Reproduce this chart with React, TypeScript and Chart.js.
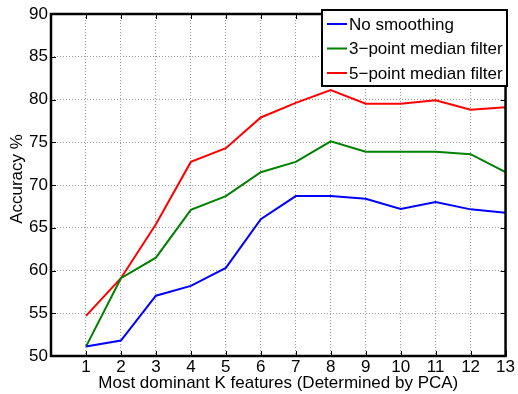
import React, { useEffect, useRef } from "react";
import { Chart, registerables } from "chart.js";

Chart.register(...registerables);

const kFeatures = [1, 2, 3, 4, 5, 6, 7, 8, 9, 10, 11, 12, 13];
const noSmoothing = [51.1, 51.8, 57.05, 58.2, 60.3, 66.0, 68.7, 68.7, 68.4, 67.2, 68.0, 67.15, 66.75];
const median3 = [51.1, 59.1, 61.5, 67.1, 68.7, 71.5, 72.7, 75.1, 73.9, 73.9, 73.9, 73.6, 71.5];
const median5 = [54.7, 59.1, 65.4, 72.7, 74.3, 77.9, 79.6, 81.1, 79.5, 79.5, 79.9, 78.8, 79.1];
const seriesLabels = ["No smoothing", "3\u2212point median filter", "5\u2212point median filter"];
const seriesColors = ["#0000ff", "#008000", "#ff0000"];
const yTicks = [50, 55, 60, 65, 70, 75, 80, 85, 90];
const yTitle = "Accuracy %";

const FONT = "'Liberation Sans', Arial, Helvetica, sans-serif";

const boxPlugin = {
  id: "matlabBox",
  afterDraw(chart: any) {
    const { ctx, chartArea: a, scales } = chart;
    const xs = scales.x;
    const ys = scales.y;
    ctx.save();
    ctx.strokeStyle = "#000";
    ctx.lineWidth = 1;
    const tl = 5;
    for (const k of kFeatures) {
      const px = Math.round(xs.getPixelForValue(k)) + 0.5;
      ctx.beginPath();
      ctx.moveTo(px, a.bottom);
      ctx.lineTo(px, a.bottom - tl);
      ctx.moveTo(px, a.top);
      ctx.lineTo(px, a.top + tl);
      ctx.stroke();
    }
    for (const v of yTicks) {
      const py = Math.round(ys.getPixelForValue(v)) + 0.5;
      ctx.beginPath();
      ctx.moveTo(a.left, py);
      ctx.lineTo(a.left + tl, py);
      ctx.moveTo(a.right, py);
      ctx.lineTo(a.right - tl, py);
      ctx.stroke();
    }
    ctx.lineWidth = 2.5;
    ctx.strokeRect(a.left, a.top, a.right - a.left, a.bottom - a.top);

    // y title
    ctx.save();
    ctx.translate(17, (a.top + a.bottom) / 2 - 6);
    ctx.rotate(-Math.PI / 2);
    ctx.font = `17px ${FONT}`;
    ctx.fillStyle = "#000";
    ctx.textAlign = "center";
    ctx.textBaseline = "middle";
    ctx.fillText(yTitle, 0, 0);
    ctx.restore();

    // legend
    const lx = 322, ly = 10, lw = 185, lh = 76;
    ctx.fillStyle = "#fff";
    ctx.fillRect(lx, ly, lw, lh);
    ctx.lineWidth = 2;
    ctx.strokeRect(lx, ly, lw, lh);
    ctx.font = `17px ${FONT}`;
    ctx.textBaseline = "middle";
    ctx.textAlign = "left";
    chart.data.datasets.forEach((ds: any, i: number) => {
      const cy = 24 + i * 24.5;
      ctx.strokeStyle = ds.borderColor;
      ctx.lineWidth = 2;
      ctx.beginPath();
      ctx.moveTo(327, cy);
      ctx.lineTo(347, cy);
      ctx.stroke();
      ctx.fillStyle = "#000";
      ctx.fillText(ds.label, 349, cy + 1);
    });
    ctx.restore();
  },
};

export default function App() {
  const ref = useRef<HTMLCanvasElement>(null);
  useEffect(() => {
    document.body.style.margin = "0";
    const series = [noSmoothing, median3, median5];
    const chart = new Chart(ref.current!, {
      type: "line",
      data: {
        datasets: series.map((s, i) => ({
          label: seriesLabels[i],
          data: s.map((v, j) => ({ x: kFeatures[j], y: v })),
          borderColor: seriesColors[i],
          backgroundColor: seriesColors[i],
          borderWidth: 2,
          pointRadius: 0,
          tension: 0,
        })),
      },
      options: {
        animation: false,
        responsive: false,
        layout: { padding: { top: 14, right: 9, left: 0, bottom: 0 } },
        plugins: { legend: { display: false }, tooltip: { enabled: false } },
        scales: {
          x: {
            type: "linear",
            min: 0,
            max: 13,
            afterBuildTicks: (scale: any) => {
              scale.ticks = [0, ...kFeatures].map((v) => ({ value: v }));
            },
            afterFit: (scale: any) => {
              scale.height = 38;
            },
            ticks: {
              autoSkip: false,
              maxRotation: 0,
              padding: 3,
              color: "#000",
              font: { family: FONT, size: 17, lineHeight: 1 },
              callback: (v: any) => (v === 0 ? "" : String(v)),
            },
            grid: { color: "#9a9a9a", lineWidth: 1, drawTicks: false },
            border: { display: false, dash: [1, 2] },
            title: {
              display: true,
              text: "Most dominant K features (Determined by PCA)",
              color: "#000",
              font: { family: FONT, size: 17, lineHeight: 1 },
              padding: { top: 0, bottom: 2 },
            },
          },
          y: {
            type: "linear",
            min: 50,
            max: 90,
            afterBuildTicks: (scale: any) => {
              scale.ticks = yTicks.map((v) => ({ value: v }));
            },
            afterFit: (scale: any) => {
              scale.width = 51;
            },
            ticks: {
              padding: 3,
              color: "#000",
              font: { family: FONT, size: 17 },
            },
            grid: { color: "#9a9a9a", lineWidth: 1, drawTicks: false },
            border: { display: false, dash: [1, 2] },
            title: { display: false },
          },
        },
      },
      plugins: [boxPlugin],
    });
    return () => chart.destroy();
  }, []);
  return <canvas ref={ref} width={518} height={394} style={{ display: "block" }} />;
}
